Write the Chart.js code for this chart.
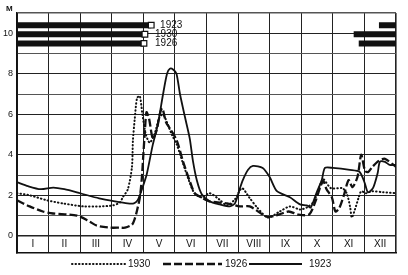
<!DOCTYPE html>
<html>
<head>
<meta charset="utf-8">
<script src="https://cdn.jsdelivr.net/npm/chart.js@4/dist/chart.umd.min.js"></script>
<style>html,body{margin:0;padding:0;background:#fff}</style>
</head>
<body>
<canvas id="c" width="408" height="275"></canvas>
<script>
// months as roman numerals, x axis runs 0..12 in month units
const months=['I','II','III','IV','V','VI','VII','VIII','IX','X','XI','XII'];
const yGrid=[0,1,2,3,4,5,6,7,8,9,10,11];
const yLabels=[0,2,4,6,8,10];

// water level, m  (t = position in months from 1 Jan)
const t1923=[0,0.35,0.75,1.15,1.5,2.0,2.6,3.1,3.5,3.7,3.82,3.9,4.0,4.11,4.3,4.46,4.62,4.75,4.84,4.95,5.05,5.16,5.32,5.47,5.57,5.7,5.85,6.1,6.42,6.74,6.9,7.05,7.15,7.31,7.47,7.78,8.0,8.23,8.64,8.96,9.18,9.3,9.49,9.65,9.75,10.0,10.54,10.85,11.01,11.11,11.27,11.42,11.49,11.65,11.8,12];
const h1923=[2.65,2.45,2.3,2.38,2.3,2.1,1.85,1.7,1.6,1.6,1.75,2.05,2.5,3.05,4.5,5.5,6.95,8.0,8.25,8.2,8.0,7.0,5.85,4.8,3.7,2.7,2.05,1.7,1.55,1.45,1.6,2.3,2.75,3.25,3.45,3.35,2.9,2.2,1.9,1.55,1.5,1.4,2.15,2.75,3.35,3.35,3.25,3.15,2.6,2.15,2.35,3.1,3.65,3.65,3.5,3.5];

const t1930=[0,0.4,0.95,1.45,2.1,2.63,3.04,3.26,3.35,3.51,3.64,3.67,3.73,3.8,3.89,3.97,4.08,4.2,4.35,4.5,4.62,4.75,4.9,5.06,5.25,5.45,5.62,5.85,6.1,6.4,6.65,6.9,7.12,7.35,7.6,7.94,8.32,8.64,8.96,9.18,9.4,9.62,9.7,9.94,10.3,10.44,10.55,10.6,10.7,10.82,10.9,11.05,11.23,11.6,12];
const h1930=[2.1,2.0,1.75,1.6,1.45,1.45,1.5,1.65,1.9,2.3,3.4,4.7,5.8,6.8,6.9,6.0,5.0,4.6,5.0,5.8,6.0,5.6,5.0,4.5,3.6,2.7,2.1,1.9,2.1,1.8,1.5,1.8,2.35,1.9,1.4,0.9,1.2,1.45,1.3,1.4,1.7,2.6,2.8,2.35,2.35,2.1,1.4,0.9,1.3,1.9,2.2,2.1,2.2,2.15,2.1];

const t1926=[0,0.4,0.82,1.14,1.9,2.3,2.53,2.95,3.26,3.42,3.64,3.73,3.8,3.89,3.95,4.0,4.05,4.1,4.18,4.3,4.42,4.52,4.6,4.72,4.84,5.06,5.25,5.47,5.63,5.89,6.1,6.65,7.06,7.37,7.9,8.2,8.6,8.9,9.25,9.45,9.6,9.7,9.8,9.97,10.08,10.2,10.35,10.5,10.62,10.78,10.9,11.02,11.12,11.25,11.45,11.65,12];
const h1926=[1.75,1.45,1.2,1.1,1.0,0.7,0.5,0.4,0.4,0.4,0.55,0.85,1.25,1.9,2.8,4.0,5.2,6.1,5.8,4.8,5.2,6.0,6.3,5.6,5.3,4.7,3.7,2.7,2.1,1.85,1.7,1.6,1.45,1.45,0.95,1.0,1.2,1.05,1.05,1.7,2.4,2.7,2.3,1.9,1.2,1.35,2.0,2.75,2.4,2.9,4.0,3.2,3.15,3.4,3.7,3.8,3.4];

// ice cover periods (bars at the top)
const iceYears=['1923','1930','1926'];
const iceLevel=[10.4,9.95,9.5];
const iceSpringEnd=[4.25,4.05,4.02];
const iceAutumnStart=[11.46,10.66,10.82];

const ink='#111';
const pts=(t,h)=>t.map((v,i)=>({x:v,y:h[i]}));

const series=[
  {label:'1923',data:pts(t1923,h1923),borderColor:ink,borderWidth:1.8,tension:0.25},
  {label:'1926',data:pts(t1926,h1926),borderColor:ink,borderWidth:2.3,borderDash:[8,3],tension:0.25},
  {label:'1930',data:pts(t1930,h1930),borderColor:ink,borderWidth:2,borderDash:[0.5,3],borderCapStyle:'round',tension:0.25}
];
const ice=iceYears.map((yr,i)=>({
  label:'ice '+yr,ice:true,
  data:[{x:0,y:iceLevel[i]},{x:iceSpringEnd[i],y:iceLevel[i]},{x:8,y:null},{x:iceAutumnStart[i],y:iceLevel[i]},{x:12,y:iceLevel[i]}],
  borderColor:ink,borderWidth:6,borderCapStyle:'butt',spanGaps:false,
  pointRadius:[0,4,0,0,0],pointStyle:'rect',pointBackgroundColor:'#fff',pointBorderColor:ink,pointBorderWidth:1.2
}));

const legendSpots=[{ds:2,x0:72,x1:125,tx:128},{ds:1,x0:163,x1:222,tx:225},{ds:0,x0:249,x1:302,tx:309}];
const iceLabelAt=[4.53,4.37,4.37];

const decor={id:'decor',afterDraw(ch){
  const {ctx,scales:{x,y}}=ch;
  ctx.save();
  ctx.fillStyle=ink;
  ctx.font='10px "Liberation Sans", Arial, sans-serif';
  ctx.textBaseline='middle';
  ctx.textAlign='center';
  months.forEach((m,i)=>ctx.fillText(m,x.getPixelForValue(i+0.5),y.getPixelForValue(-0.43)));
  ctx.textAlign='left';
  iceYears.forEach((yr,i)=>ctx.fillText(yr,x.getPixelForValue(iceLabelAt[i]),y.getPixelForValue(iceLevel[i])));
  ctx.font='bold 8px "Liberation Sans", Arial, sans-serif';
  ctx.fillText('M',6,9);
  // legend under the plot
  ctx.font='10px "Liberation Sans", Arial, sans-serif';
  legendSpots.forEach(s=>{
    const d=ch.data.datasets[s.ds];
    ctx.save();
    ctx.strokeStyle=d.borderColor;ctx.lineWidth=d.borderWidth;
    ctx.setLineDash(d.borderDash||[]);ctx.lineCap=d.borderCapStyle||'butt';
    ctx.beginPath();ctx.moveTo(s.x0,264);ctx.lineTo(s.x1,264);ctx.stroke();
    ctx.restore();
    ctx.fillText(d.label,s.tx,264);
  });
  ctx.restore();
}};

Chart.defaults.font.family='"Liberation Sans", Arial, sans-serif';
new Chart(document.getElementById('c'),{
  type:'line',
  data:{datasets:[...series,...ice]},
  options:{
    responsive:false,animation:false,devicePixelRatio:1,
    layout:{padding:{left:0,right:12,top:13,bottom:22}},
    plugins:{legend:{display:false},tooltip:{enabled:false}},
    elements:{point:{radius:0}},
    scales:{
      x:{type:'linear',min:0,max:12,
        afterBuildTicks:s=>{s.ticks=months.map((m,i)=>({value:i})).concat([{value:12}]);},
        ticks:{display:false},
        grid:{color:'#222',lineWidth:c=>(c.tick&&c.tick.value===12)?1.6:1,drawTicks:false},
        border:{display:true,color:ink,width:1.6},
        afterFit:s=>{s.height=0;}},
      y:{type:'linear',min:-0.85,max:11,
        afterBuildTicks:s=>{s.ticks=yGrid.map(v=>({value:v}));},
        ticks:{autoSkip:false,padding:4,color:ink,font:{size:9},callback:v=>yLabels.includes(v)?String(v):''},
        grid:{drawTicks:false,color:c=>(c.tick&&c.tick.value%2)?'#555':'#222',lineWidth:c=>(c.tick&&(c.tick.value===11||c.tick.value===0))?1.5:1},
        border:{display:true,color:ink,width:1.6},
        afterFit:s=>{s.width=17;}}
    }
  },
  plugins:[decor]
});
</script>
</body>
</html>
